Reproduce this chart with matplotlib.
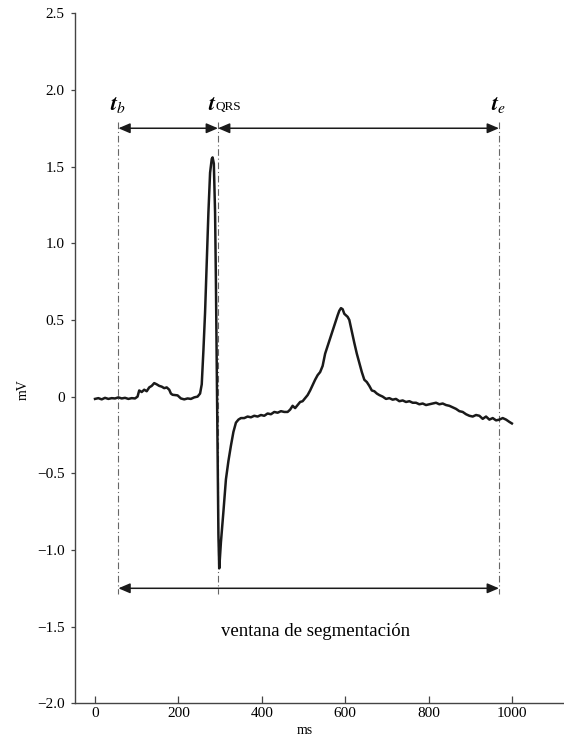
import matplotlib
matplotlib.use("Agg")
import matplotlib.pyplot as plt

plt.rcParams['font.family'] = ['Liberation Serif', 'DejaVu Serif']
plt.rcParams['mathtext.fontset'] = 'stix'

# ECG beat (ms, mV)
ecg_ms = [0, 8, 16, 24, 32, 40, 48, 56, 64, 72, 80, 88, 96,
          102, 106, 112, 118, 124, 130, 136, 142, 148, 154, 160, 166,
          172, 178, 182, 186, 192, 198, 206, 214, 222, 230, 238, 246, 252,
          256, 260, 264, 268, 272, 276, 280, 282, 285, 288, 290, 292,
          294, 296, 298, 302, 308, 314, 320, 326, 332, 338, 344, 350,
          358, 366, 374, 382, 390, 398, 406, 414, 422, 430, 438, 446,
          454, 462, 468, 474, 480, 486, 492, 498, 504, 510, 516, 522,
          528, 534, 540, 546, 552, 558, 564, 570, 576, 582, 586, 590,
          594, 598, 602, 606, 610, 614, 618, 622, 628, 634, 640, 646,
          652, 658, 664, 670, 676, 682, 690, 698, 706, 714, 722, 730,
          738, 746, 754, 762, 770, 778, 786, 794, 802, 810, 818, 826,
          834, 842, 850, 858, 866, 874, 882, 890, 898, 906, 914, 922,
          930, 938, 946, 954, 962, 970, 978, 986, 994, 1000]
ecg_mv = [-0.015, -0.010, -0.018, -0.008, -0.015, -0.010, -0.012, -0.005, -0.012, -0.008, -0.015, -0.010, -0.012,
          0.000, 0.040, 0.030, 0.045, 0.035, 0.060, 0.070, 0.088, 0.080, 0.070, 0.065, 0.055,
          0.060, 0.045, 0.020, 0.012, 0.010, 0.008, -0.012, -0.018, -0.012, -0.015, -0.005, 0.000, 0.020,
          0.080, 0.300, 0.550, 0.880, 1.200, 1.460, 1.550, 1.560, 1.520, 1.200, 0.750, 0.200,
          -0.350, -0.900, -1.120, -0.950, -0.750, -0.540, -0.420, -0.320, -0.230, -0.170, -0.150, -0.140,
          -0.140, -0.130, -0.135, -0.125, -0.130, -0.120, -0.125, -0.110, -0.115, -0.100, -0.105, -0.095,
          -0.100, -0.100, -0.085, -0.060, -0.075, -0.055, -0.035, -0.030, -0.010, 0.010, 0.040, 0.075,
          0.110, 0.140, 0.160, 0.200, 0.280, 0.330, 0.380, 0.430, 0.480, 0.530, 0.560, 0.577,
          0.570, 0.540, 0.530, 0.520, 0.500, 0.450, 0.400, 0.350, 0.280, 0.220, 0.160, 0.110,
          0.095, 0.070, 0.040, 0.035, 0.020, 0.010, 0.000, -0.015, -0.010, -0.020, -0.015, -0.030,
          -0.025, -0.035, -0.030, -0.040, -0.040, -0.050, -0.045, -0.055, -0.050, -0.045, -0.040, -0.050,
          -0.045, -0.055, -0.060, -0.070, -0.080, -0.095, -0.100, -0.115, -0.125, -0.130, -0.120, -0.125,
          -0.145, -0.130, -0.150, -0.140, -0.155, -0.150, -0.140, -0.150, -0.165, -0.175]

# segmentation markers (ms)
t_b = 56
t_qrs = 295
t_e = 969
arrow_top = 1.75
arrow_bottom = -1.25

xticks = [0, 200, 400, 600, 800, 1000]
yticks = [-2.0, -1.5, -1.0, -0.5, 0, 0.5, 1.0, 1.5, 2.0, 2.5]
ytick_labels = ['\u22122.0', '\u22121.5', '\u22121.0', '\u22120.5', '0', '0.5', '1.0', '1.5', '2.0', '2.5']

fig = plt.figure(figsize=(5.64, 7.44), dpi=100)
ax = fig.add_axes([0.133, 0.0547, 0.867, 0.9275])

ax.plot(ecg_ms, ecg_mv, color='#1a1a1a', lw=1.8, solid_joinstyle='round', zorder=3)

# vertical dash-dot guides
for xv in (t_b, t_qrs, t_e):
    ax.plot([xv, xv], [1.79, -1.29], color='#666666', lw=0.8,
            linestyle=(0, (6, 2.5, 1, 2.5)), zorder=2)

arrow = dict(arrowstyle='<|-|>,head_length=0.7,head_width=0.3', color='#1a1a1a',
             lw=1.1, mutation_scale=10, shrinkA=0, shrinkB=0)
ax.annotate('', xy=(t_qrs, arrow_top), xytext=(t_b, arrow_top), arrowprops=arrow)
ax.annotate('', xy=(t_e, arrow_top), xytext=(t_qrs, arrow_top), arrowprops=arrow)
ax.annotate('', xy=(t_e, arrow_bottom), xytext=(t_b, arrow_bottom), arrowprops=arrow)

ax.text(t_b, 1.87, r'$\mathbfit{t}_b$', ha='center', va='baseline', fontsize=16)
ax.text(272, 1.87, r'$\mathbfit{t}$', ha='left', va='baseline', fontsize=16)
ax.text(289, 1.87, 'QRS', ha='left', va='baseline', fontsize=9.5)
ax.text(t_e, 1.87, r'$\mathbfit{t}_e$', ha='center', va='baseline', fontsize=16)
ax.text(529, -1.535, 'ventana de segmentación', ha='center', va='center', fontsize=13.5)

ax.set_xlim(-48, 1125)
ax.set_ylim(-2.0, 2.5)
ax.set_xticks(xticks)
ax.set_yticks(yticks)
ax.set_yticklabels(ytick_labels)

for s in ('top', 'right'):
    ax.spines[s].set_visible(False)
for s in ('left', 'bottom'):
    ax.spines[s].set_color('#444444')
    ax.spines[s].set_linewidth(1.0)

ax.tick_params(axis='x', direction='in', length=5, width=0.9, color='#444444',
               labelsize=11, pad=3)
ax.tick_params(axis='y', direction='out', length=3, width=0.9, color='#444444',
               labelsize=11, pad=4.5)

ax.set_xlabel('ms', fontsize=10, va='center')
ax.xaxis.set_label_coords(0.47, -0.039)
ax.set_ylabel('mV', fontsize=10, va='center')
ax.yaxis.set_label_coords(-0.107, 0.454)

fig.savefig('out.png', dpi=100)
